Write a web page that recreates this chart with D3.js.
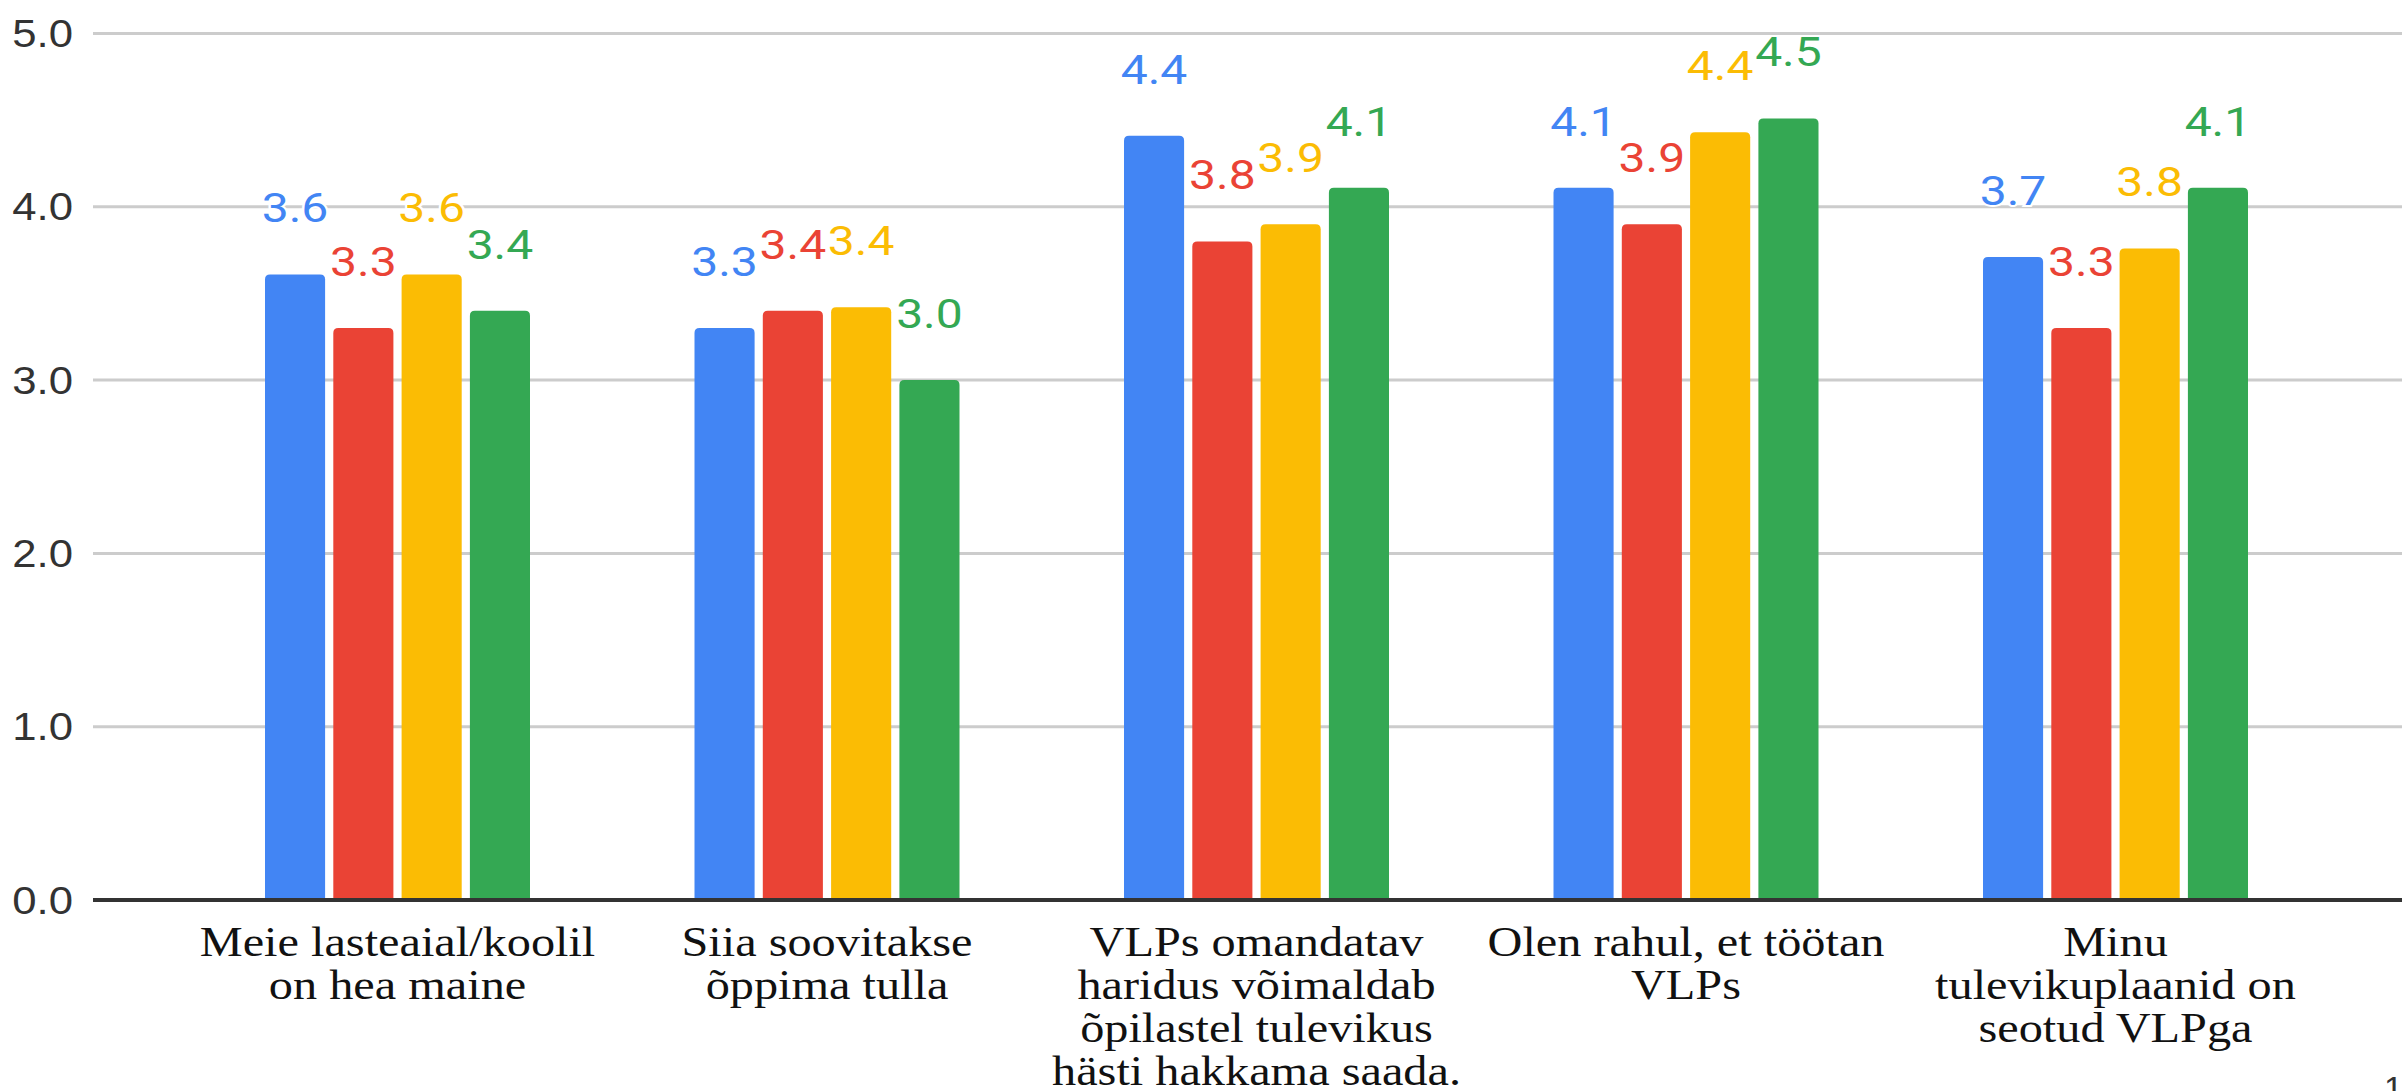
<!DOCTYPE html>
<html>
<head>
<meta charset="utf-8">
<script src="https://cdn.jsdelivr.net/npm/d3@7"></script>
<style>
    html, body { margin: 0; padding: 0; background: #fff; }
    #chart { width: 2402px; height: 1091px; overflow: hidden; }
</style>
</head>
<body>
<div id="chart"></div>
<script>
// Chart data
const categories = [
    ['Meie lasteaial/koolil', 'on hea maine'],
    ['Siia soovitakse', 'õppima tulla'],
    ['VLPs omandatav', 'haridus võimaldab', 'õpilastel tulevikus', 'hästi hakkama saada.'],
    ['Olen rahul, et töötan', 'VLPs'],
    ['Minu', 'tulevikuplaanid on', 'seotud VLPga']
];
const seriesNames = ['s1', 's2', 's3', 's4'];
const seriesColors = ['#4285F4', '#EA4335', '#FBBC04', '#34A853'];
const series1 = [3.61, 3.30, 4.41, 4.11, 3.71];
const series2 = [3.30, 3.40, 3.80, 3.90, 3.30];
const series3 = [3.61, 3.42, 3.90, 4.43, 3.76];
const series4 = [3.40, 3.00, 4.11, 4.51, 4.11];
const yTicks = [0, 1, 2, 3, 4, 5];

const allSeries = [series1, series2, series3, series4];

// Layout
const width = 2402;
const height = 1091;
const gridLeft = 93;
const yTop = 33.5;
const yBottom = 900;
const serifFont = "'Liberation Serif', 'Times New Roman', Times, serif";
const sansFont = "'Liberation Sans', Arial, sans-serif";
// the source picture is stretched sideways a bit
const stretch = 1.15;

const svg = d3.select('#chart')
    .append('svg')
    .attr('width', width)
    .attr('height', height);

const y = d3.scaleLinear().domain([0, 5]).range([yBottom, yTop]);

const x0 = d3.scaleBand()
    .domain(d3.range(categories.length))
    .range([182.75, 2330.25])
    .paddingInner(0.383)
    .paddingOuter(0.1915);

const x1 = d3.scaleBand()
    .domain(seriesNames)
    .range([0, x0.bandwidth()])
    .paddingInner(0.12);

// Gridlines + y labels
const yAxis = svg.append('g').attr('class', 'y-axis');
yTicks.forEach(t => {
    if (t > 0) {
        yAxis.append('line')
            .attr('x1', gridLeft).attr('x2', width)
            .attr('y1', y(t)).attr('y2', y(t))
            .attr('stroke', '#cccccc')
            .attr('stroke-width', 3);
    }
    yAxis.append('text')
        .attr('transform', 'translate(73,' + (y(t) + 13.5) + ') scale(' + stretch + ',1)')
        .attr('text-anchor', 'end')
        .style('font-family', sansFont)
        .attr('font-size', 38)
        .attr('fill', '#333')
        .text(t.toFixed(1));
});

// Bars with rounded top corners
function topRoundedRect(x, yy, w, h, r) {
    return 'M' + x + ',' + (yy + h) +
        'V' + (yy + r) +
        'Q' + x + ',' + yy + ' ' + (x + r) + ',' + yy +
        'H' + (x + w - r) +
        'Q' + (x + w) + ',' + yy + ' ' + (x + w) + ',' + (yy + r) +
        'V' + (yy + h) + 'Z';
}

const groups = svg.selectAll('.group')
    .data(categories)
    .enter()
    .append('g')
    .attr('class', 'group')
    .attr('transform', (d, i) => 'translate(' + x0(i) + ',0)');

groups.each(function(d, i) {
    const g = d3.select(this);
    allSeries.forEach((s, k) => {
        const v = s[i];
        const bx = x1(seriesNames[k]);
        g.append('path')
            .attr('d', topRoundedRect(bx, y(v), x1.bandwidth(), y(0) - y(v), 5))
            .attr('fill', seriesColors[k]);
    });
});

// Baseline
svg.append('line')
    .attr('x1', gridLeft).attr('x2', width)
    .attr('y1', yBottom).attr('y2', yBottom)
    .attr('stroke', '#333')
    .attr('stroke-width', 4);

// Value labels
groups.each(function(d, i) {
    const g = d3.select(this);
    allSeries.forEach((s, k) => {
        const v = s[i];
        const cx = x1(seriesNames[k]) + x1.bandwidth() / 2;
        g.append('text')
            .attr('transform', 'translate(' + cx + ',' + (y(v) - 52) + ') scale(1.2,1)')
            .attr('text-anchor', 'middle')
            .style('font-family', 'Roboto, sans-serif')
            .attr('font-size', 40)
            .attr('fill', seriesColors[k])
            .attr('stroke', '#fff')
            .attr('stroke-width', 4)
            .attr('paint-order', 'stroke')
            .text(v.toFixed(1));
    });
});

// Category labels
groups.each(function(lines) {
    const g = d3.select(this);
    const cx = x0.bandwidth() / 2;
    lines.forEach((line, j) => {
        g.append('text')
            .attr('transform', 'translate(' + cx + ',' + (956 + j * 43) + ') scale(' + stretch + ',1)')
            .attr('text-anchor', 'middle')
            .style('font-family', serifFont)
            .attr('font-size', 42)
            .attr('fill', '#111')
            .text(line);
    });
});

// Page number in the corner
svg.append('text')
    .attr('x', 2384)
    .attr('y', 1100)
    .style('font-family', sansFont)
    .attr('font-size', 34)
    .attr('fill', '#333')
    .text('1');
</script>
</body>
</html>
